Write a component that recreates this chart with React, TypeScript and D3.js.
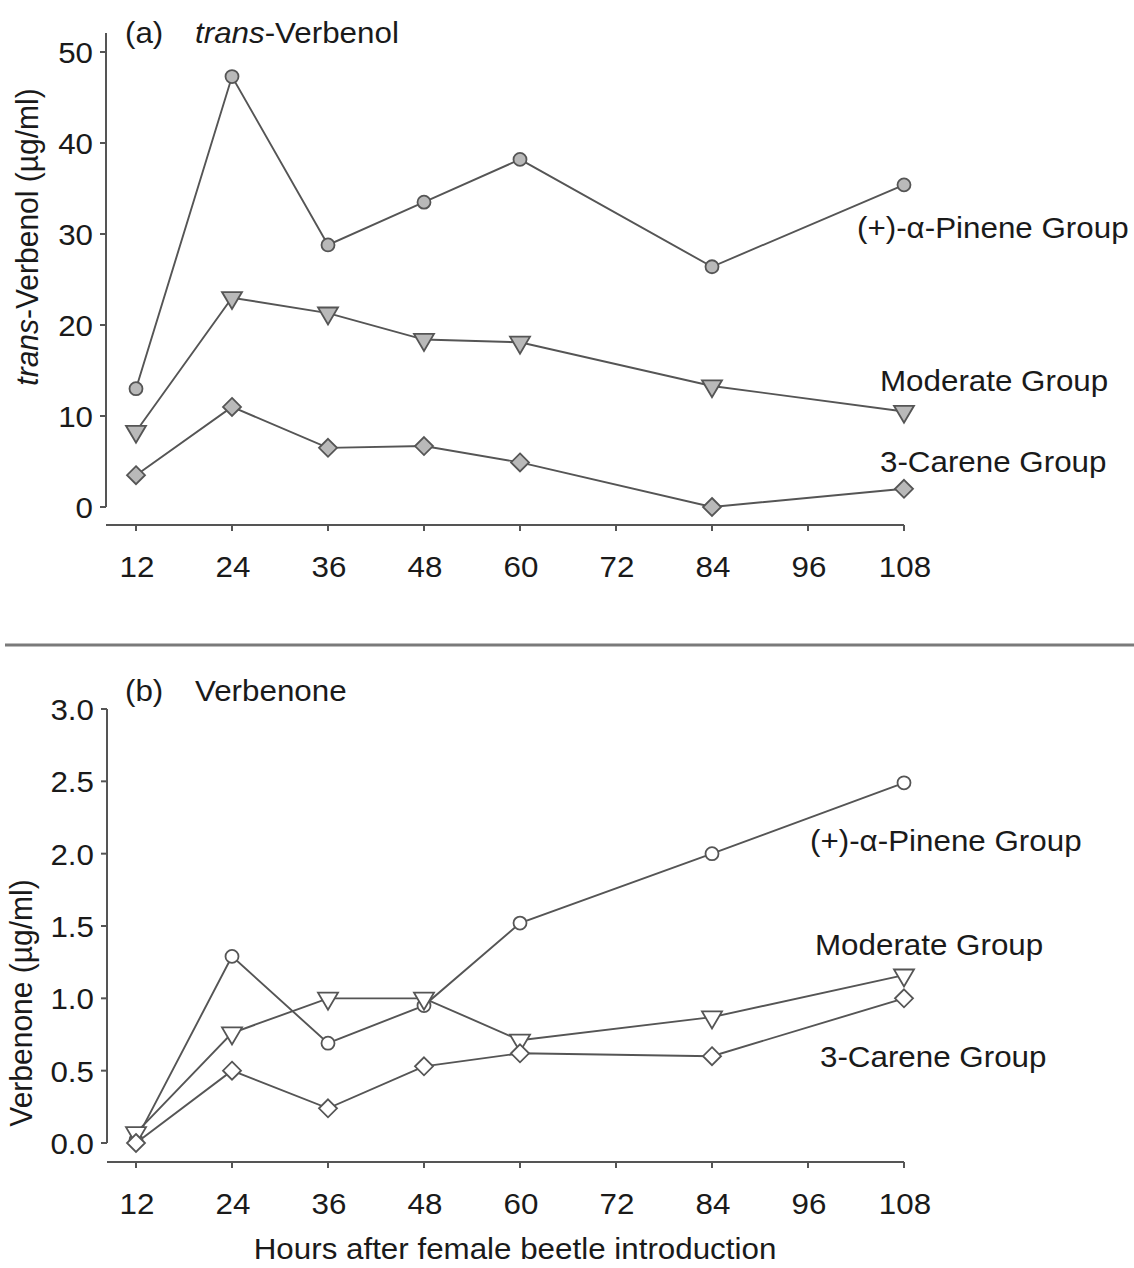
import React from "react";
import * as d3 from "d3";

const hours = [12, 24, 36, 48, 60, 84, 108];
const xTicks = [12, 24, 36, 48, 60, 72, 84, 96, 108];

const verbenolPinene = [13.0, 47.3, 28.8, 33.5, 38.2, 26.4, 35.4];
const verbenolModerate = [8.3, 23.0, 21.3, 18.4, 18.1, 13.3, 10.5];
const verbenolCarene = [3.5, 11.0, 6.5, 6.7, 4.9, 0.0, 2.0];
const verbenolTicks = [0, 10, 20, 30, 40, 50];

const verbenonePinene = [0.02, 1.29, 0.69, 0.95, 1.52, 2.0, 2.49];
const verbenoneModerate = [0.07, 0.76, 1.0, 1.0, 0.71, 0.87, 1.16];
const verbenoneCarene = [0.0, 0.5, 0.24, 0.53, 0.62, 0.6, 1.0];
const verbenoneTicks = [0, 0.5, 1.0, 1.5, 2.0, 2.5, 3.0];

const groupLabels = ["(+)-α-Pinene Group", "Moderate Group", "3-Carene Group"];

const FONT = "'Liberation Sans', Arial, sans-serif";
const FS = 30;
const SX = 1.045;
const LINE = "#555";

function T({ x, y, children, anchor = "start", italic = false, rotate = 0 }: any) {
  return (
    <text
      transform={`translate(${x},${y}) scale(${SX},1)${rotate ? ` rotate(${rotate})` : ""}`}
      textAnchor={anchor}
      fontFamily={FONT}
      fontSize={FS}
      fill="#1a1a1a"
      fontStyle={italic ? "italic" : "normal"}
    >
      {children}
    </text>
  );
}

function Marker({ type, cx, cy, fill }: any) {
  const stroke = "#555";
  if (type === "circle") return <circle cx={cx} cy={cy} r={6.5} fill={fill} stroke={stroke} strokeWidth={1.8} />;
  if (type === "tri") {
    const w = 20, h = 17;
    return (
      <path
        d={`M${cx - w / 2},${cy - h / 3}L${cx + w / 2},${cy - h / 3}L${cx},${cy + (2 * h) / 3}Z`}
        fill={fill}
        stroke={stroke}
        strokeWidth={1.8}
        strokeLinejoin="miter"
      />
    );
  }
  const r = 9;
  return (
    <path
      d={`M${cx},${cy - r}L${cx + r},${cy}L${cx},${cy + r}L${cx - r},${cy}Z`}
      fill={fill}
      stroke={stroke}
      strokeWidth={1.8}
    />
  );
}

function Panel({ cfg }: any) {
  const x = d3.scaleLinear().domain([12, 108]).range([136, 904]);
  const y = d3.scaleLinear().domain([0, cfg.yMax]).range([cfg.y0, cfg.yTop]);
  const line = d3
    .line<number>()
    .x((_, i) => x(hours[i]))
    .y((d) => y(d));
  const types = ["circle", "tri", "diamond"];
  return (
    <g>
      <line x1={cfg.axisX} x2={cfg.axisX} y1={cfg.axisTop} y2={y(0)} stroke={LINE} strokeWidth={2} />
      {cfg.yTicks.map((t: number) => (
        <g key={t}>
          <line x1={cfg.axisX - 6} x2={cfg.axisX} y1={y(t)} y2={y(t)} stroke={LINE} strokeWidth={2} />
          <T x={cfg.axisX - 13} y={y(t) + 11} anchor="end">
            {cfg.fmt(t)}
          </T>
        </g>
      ))}
      <line x1={cfg.axisX} x2={x(108)} y1={cfg.xAxisY} y2={cfg.xAxisY} stroke={LINE} strokeWidth={2} />
      {xTicks.map((t) => (
        <g key={t}>
          <line x1={x(t)} x2={x(t)} y1={cfg.xAxisY} y2={cfg.xAxisY + 6} stroke={LINE} strokeWidth={2} />
          <T x={x(t) + 1} y={cfg.xAxisY + 52} anchor="middle">
            {t}
          </T>
        </g>
      ))}
      {cfg.series.map((s: number[], si: number) => (
        <path key={"l" + si} d={line(s) || ""} fill="none" stroke={LINE} strokeWidth={1.9} />
      ))}
      {cfg.series.map((s: number[], si: number) =>
        s.map((v, i) => (
          <Marker key={`m${si}-${i}`} type={types[si]} cx={x(hours[i])} cy={y(v)} fill={cfg.markerFill} />
        ))
      )}
      {groupLabels.map((g, i) => (
        <T key={g} x={cfg.labelPos[i][0]} y={cfg.labelPos[i][1]}>
          {g}
        </T>
      ))}
      <T x={125} y={cfg.titleY}>
        {cfg.tag}
      </T>
      {cfg.title}
      {cfg.yTitle}
    </g>
  );
}

export default function App() {
  const panelA = {
    yMax: 50,
    y0: 507,
    yTop: 52,
    axisX: 106,
    axisTop: 33,
    xAxisY: 525,
    yTicks: verbenolTicks,
    fmt: (t: number) => String(t),
    series: [verbenolPinene, verbenolModerate, verbenolCarene],
    markerFill: "#b9b9b9",
    labelPos: [
      [857, 238],
      [880, 391],
      [880, 472],
    ],
    tag: "(a)",
    titleY: 43,
    title: (
      <text transform={`translate(195,43) scale(${SX},1)`} fontFamily={FONT} fontSize={FS} fill="#1a1a1a">
        <tspan fontStyle="italic">trans</tspan>-Verbenol
      </text>
    ),
    yTitle: (
      <text
        transform={`translate(38,237) scale(${SX},1) rotate(-90)`}
        textAnchor="middle"
        fontFamily={FONT}
        fontSize={FS}
        fill="#1a1a1a"
      >
        <tspan fontStyle="italic">trans</tspan>-Verbenol  (µg/ml)
      </text>
    ),
  };
  const panelB = {
    yMax: 3,
    y0: 1143,
    yTop: 709,
    axisX: 107,
    axisTop: 709,
    xAxisY: 1162,
    yTicks: verbenoneTicks,
    fmt: (t: number) => t.toFixed(1),
    series: [verbenonePinene, verbenoneModerate, verbenoneCarene],
    markerFill: "#ffffff",
    labelPos: [
      [810, 851],
      [815, 955],
      [820, 1067],
    ],
    tag: "(b)",
    titleY: 701,
    title: <T x={195} y={701}>Verbenone</T>,
    yTitle: (
      <text
        transform={`translate(32,1003) scale(${SX},1) rotate(-90)`}
        textAnchor="middle"
        fontFamily={FONT}
        fontSize={FS}
        fill="#1a1a1a"
      >
        Verbenone  (µg/ml)
      </text>
    ),
  };
  return (
    <svg width={1134} height={1268} style={{ position: "absolute", left: 0, top: 0, background: "#fff" }}>
      <rect width={1134} height={1268} fill="#fff" />
      <Panel cfg={panelA} />
      <line x1={5} x2={1134} y1={645} y2={645} stroke="#7a7a7a" strokeWidth={3} />
      <Panel cfg={panelB} />
      <T x={515} y={1259} anchor="middle">
        Hours after female beetle introduction
      </T>
    </svg>
  );
}
